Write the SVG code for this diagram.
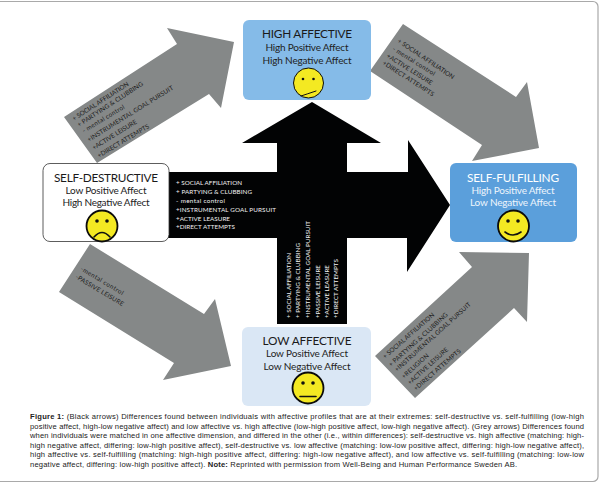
<svg xmlns="http://www.w3.org/2000/svg" width="600" height="483" viewBox="0 0 600 483">
<style>
text{font-family:"Lato","Open Sans","Liberation Sans",sans-serif}
.frame{fill:#fff;stroke:#a9a9a9;stroke-width:1.2}
.grey{fill:#858888}
.black{fill:#020304}
.node{stroke:none}
.t{font-size:11.8px;text-anchor:middle;fill:#1a1a1a}
.s{font-size:10px;text-anchor:middle;fill:#222}
.a{font-size:6.3px;fill:#1c1c1c}
.b{font-size:6.3px;fill:#f2f2f2}
.face{fill:#f4e922;stroke:#0b0b0b;stroke-width:1.8}
.eye{fill:#111}
.mouth{fill:none;stroke:#111;stroke-width:1.6;stroke-linecap:round}
text.cap{font-family:"Liberation Sans",Arial,sans-serif;font-size:7.6px;fill:#222}
.bd{font-weight:700}
</style>
<rect class="frame" x="-6" y="1.5" width="604" height="480" rx="5"/>
<g id="connectors">
<polygon id="black-arrows" class="black" points="165,172 277,172 277,143 242,143 312,102 381,143 347,143 347,172 408,172 408,140 450,205 407,272 407,238 347,238 347,324 277,324 277,238 165,238"/>
<polygon id="grey-a" class="grey" points="64,117 97,163 209,94 221,108 234,42 167,28 177,44"/>
<polygon id="grey-b" class="grey" points="403,24 370,71 482,145 472,161 539,148 527,82 516,97"/>
<polygon id="grey-c" class="grey" points="90,244 59,292 174,363 163,380 231,366 215,299 204,314"/>
<polygon id="grey-d" class="grey" points="375,356 415,398 514,308 527,322 529,253 459,252 472,267"/>
<g id="labels-grey-a" class="a">
<text transform="translate(74,121) rotate(-33)" textLength="66">+ SOCIAL AFFILIATION</text>
<text transform="translate(79,127) rotate(-33)" textLength="77">+ PARTYING &amp; CLUBBING</text>
<text transform="translate(84,133) rotate(-31)" textLength="48">- mental control</text>
<text transform="translate(89,142) rotate(-32)" textLength="100">+INSTRUMENTAL GOAL PURSUIT</text>
<text transform="translate(94,150) rotate(-32)" textLength="51">+ACTIVE LEISURE</text>
<text transform="translate(99,158) rotate(-31)" textLength="59">+DIRECT ATTEMPTS</text>
</g>
<g id="labels-grey-b" class="a">
<text transform="translate(397,42) rotate(34)" textLength="67">+ SOCIAL AFFILIATION</text>
<text transform="translate(392,50) rotate(32)" textLength="49">- mental control</text>
<text transform="translate(386,57) rotate(32)" textLength="53">+ACTIVE LEISURE</text>
<text transform="translate(382,64) rotate(33)" textLength="60">+DIRECT ATTEMPTS</text>
</g>
<g id="labels-grey-c" class="a">
<text transform="translate(80,270) rotate(31)" textLength="49">-mental control</text>
<text transform="translate(75,278) rotate(31)" textLength="55">-PASSIVE LEISURE</text>
</g>
<g id="labels-grey-d" class="a">
<text transform="translate(385,359) rotate(-41)" textLength="66">+ SOCIAL AFFILIATION</text>
<text transform="translate(391,367) rotate(-42)" textLength="77">+ PARTYING &amp; CLUBBING</text>
<text transform="translate(397,372) rotate(-42)" textLength="100">+INSTRUMENTAL GOAL PURSUIT</text>
<text transform="translate(404,379) rotate(-42)" textLength="34">+RELIGION</text>
<text transform="translate(410,385) rotate(-42)" textLength="52">+ACTIVE LEISURE</text>
<text transform="translate(416,391) rotate(-41)" textLength="60">+DIRECT ATTEMPTS</text>
</g>
<g id="labels-black-h" class="b">
<text x="176" y="185" textLength="66">+ SOCIAL AFFILIATION</text>
<text x="176" y="194" textLength="76">+ PARTYING &amp; CLUBBING</text>
<text x="176" y="203" textLength="49">- mental control</text>
<text x="176" y="212" textLength="100">+INSTRUMENTAL GOAL PURSUIT</text>
<text x="176" y="221" textLength="54">+ACTIVE LEASURE</text>
<text x="176" y="229" textLength="59">+DIRECT ATTEMPTS</text>
</g>
<g id="labels-black-v" class="b">
<text transform="translate(291,318) rotate(-90)" textLength="65">+ SOCIAL AFFILIATION</text>
<text transform="translate(300,318) rotate(-90)" textLength="75">+ PARTYING &amp; CLUBBING</text>
<text transform="translate(310,318) rotate(-90)" textLength="97">+INSTRUMENTAL GOAL PURSUIT</text>
<text transform="translate(320,318) rotate(-90)" textLength="53">+PASSIVE LEISURE</text>
<text transform="translate(329,318) rotate(-90)" textLength="53">+ACTIVE LEASURE</text>
<text transform="translate(338,318) rotate(-90)" textLength="59">+DIRECT ATTEMPTS</text>
</g>
</g>
<g id="high-affective">
<rect class="node" x="243" y="20" width="128" height="80" rx="6" fill="#85bbe8"/>
<text class="t" x="307" y="38" textLength="90">HIGH AFFECTIVE</text>
<text class="s" x="307" y="51" textLength="83">High Positive Affect</text>
<text class="s" x="307" y="64" textLength="89">High Negative Affect</text>
<circle class="face" cx="308.500" cy="83" r="15" style="stroke-width:1"/>
<circle class="eye" cx="303" cy="79" r="1.300"/><circle class="eye" cx="313.500" cy="79" r="1.300"/>
<path class="mouth" d="M301,96 Q307,94 316,91" style="stroke-width:1"/>
</g>
<g id="self-destructive">
<rect x="43" y="163.500" width="126" height="78" rx="7" fill="#fff" stroke="#333" stroke-width=".8"/>
<text class="t" x="106" y="182" textLength="104">SELF-DESTRUCTIVE</text>
<text class="s" x="106" y="194" textLength="81">Low Positive Affect</text>
<text class="s" x="106" y="206" textLength="87">High Negative Affect</text>
<circle class="face" cx="102" cy="226" r="15.500"/>
<circle class="eye" cx="97" cy="221" r="1.800"/><circle class="eye" cx="107" cy="221" r="1.800"/>
<path class="mouth" d="M94,237 Q102,228 110,237"/>
</g>
<g id="self-fulfilling">
<rect class="node" x="450" y="163" width="127" height="79" rx="6" fill="#5b9fdb"/>
<text class="t" x="513" y="182" textLength="92" style="fill:#fff">SELF-FULFILLING</text>
<text class="s" x="513" y="194" textLength="83" style="fill:#eef5fb">High Positive Affect</text>
<text class="s" x="513" y="206" textLength="86" style="fill:#eef5fb">Low Negative Affect</text>
<circle class="face" cx="513.500" cy="226" r="15.500"/>
<circle class="eye" cx="508" cy="221" r="1.800"/><circle class="eye" cx="518" cy="221" r="1.800"/>
<path class="mouth" d="M505,232 Q513,238 521,232"/>
</g>
<g id="low-affective">
<rect class="node" x="242" y="327" width="129" height="79" rx="6" fill="#dae7f5"/>
<text class="t" x="307" y="345" textLength="89">LOW AFFECTIVE</text>
<text class="s" x="307" y="357" textLength="82">Low Positive Affect</text>
<text class="s" x="307" y="370" textLength="87">Low Negative Affect</text>
<circle class="face" cx="308" cy="388" r="15.500"/>
<circle class="eye" cx="303" cy="383" r="1.800"/><circle class="eye" cx="313" cy="383" r="1.800"/>
<path class="mouth" d="M300,396.500 H316"/>
</g>
<g id="caption">
<text class="cap" x="30" y="419" textLength="554"><tspan class="bd">Figure 1:</tspan> (Black arrows) Differences found between individuals with affective profiles that are at their extremes: self-destructive vs. self-fulfilling (low-high</text>
<text class="cap" x="30" y="428.500" textLength="554">positive affect, high-low negative affect) and low affective vs. high affective (low-high positive affect, low-high negative affect). (Grey arrows) Differences found</text>
<text class="cap" x="30" y="438" textLength="554">when individuals were matched in one affective dimension, and differed in the other (i.e., within differences): self-destructive vs. high affective (matching: high-</text>
<text class="cap" x="30" y="447.500" textLength="554">high negative affect, differing: low-high positive affect), self-destructive vs. low affective (matching: low-low positive affect, differing: high-low negative affect),</text>
<text class="cap" x="30" y="457" textLength="554">high affective vs. self-fulfilling (matching: high-high positive affect, differing: high-low negative affect), and low affective vs. self-fulfilling (matching: low-low</text>
<text class="cap" x="30" y="466.500" textLength="487">negative affect, differing: low-high positive affect). <tspan class="bd">Note:</tspan> Reprinted with permission from Well-Being and Human Performance Sweden AB.</text>
</g>
</svg>
